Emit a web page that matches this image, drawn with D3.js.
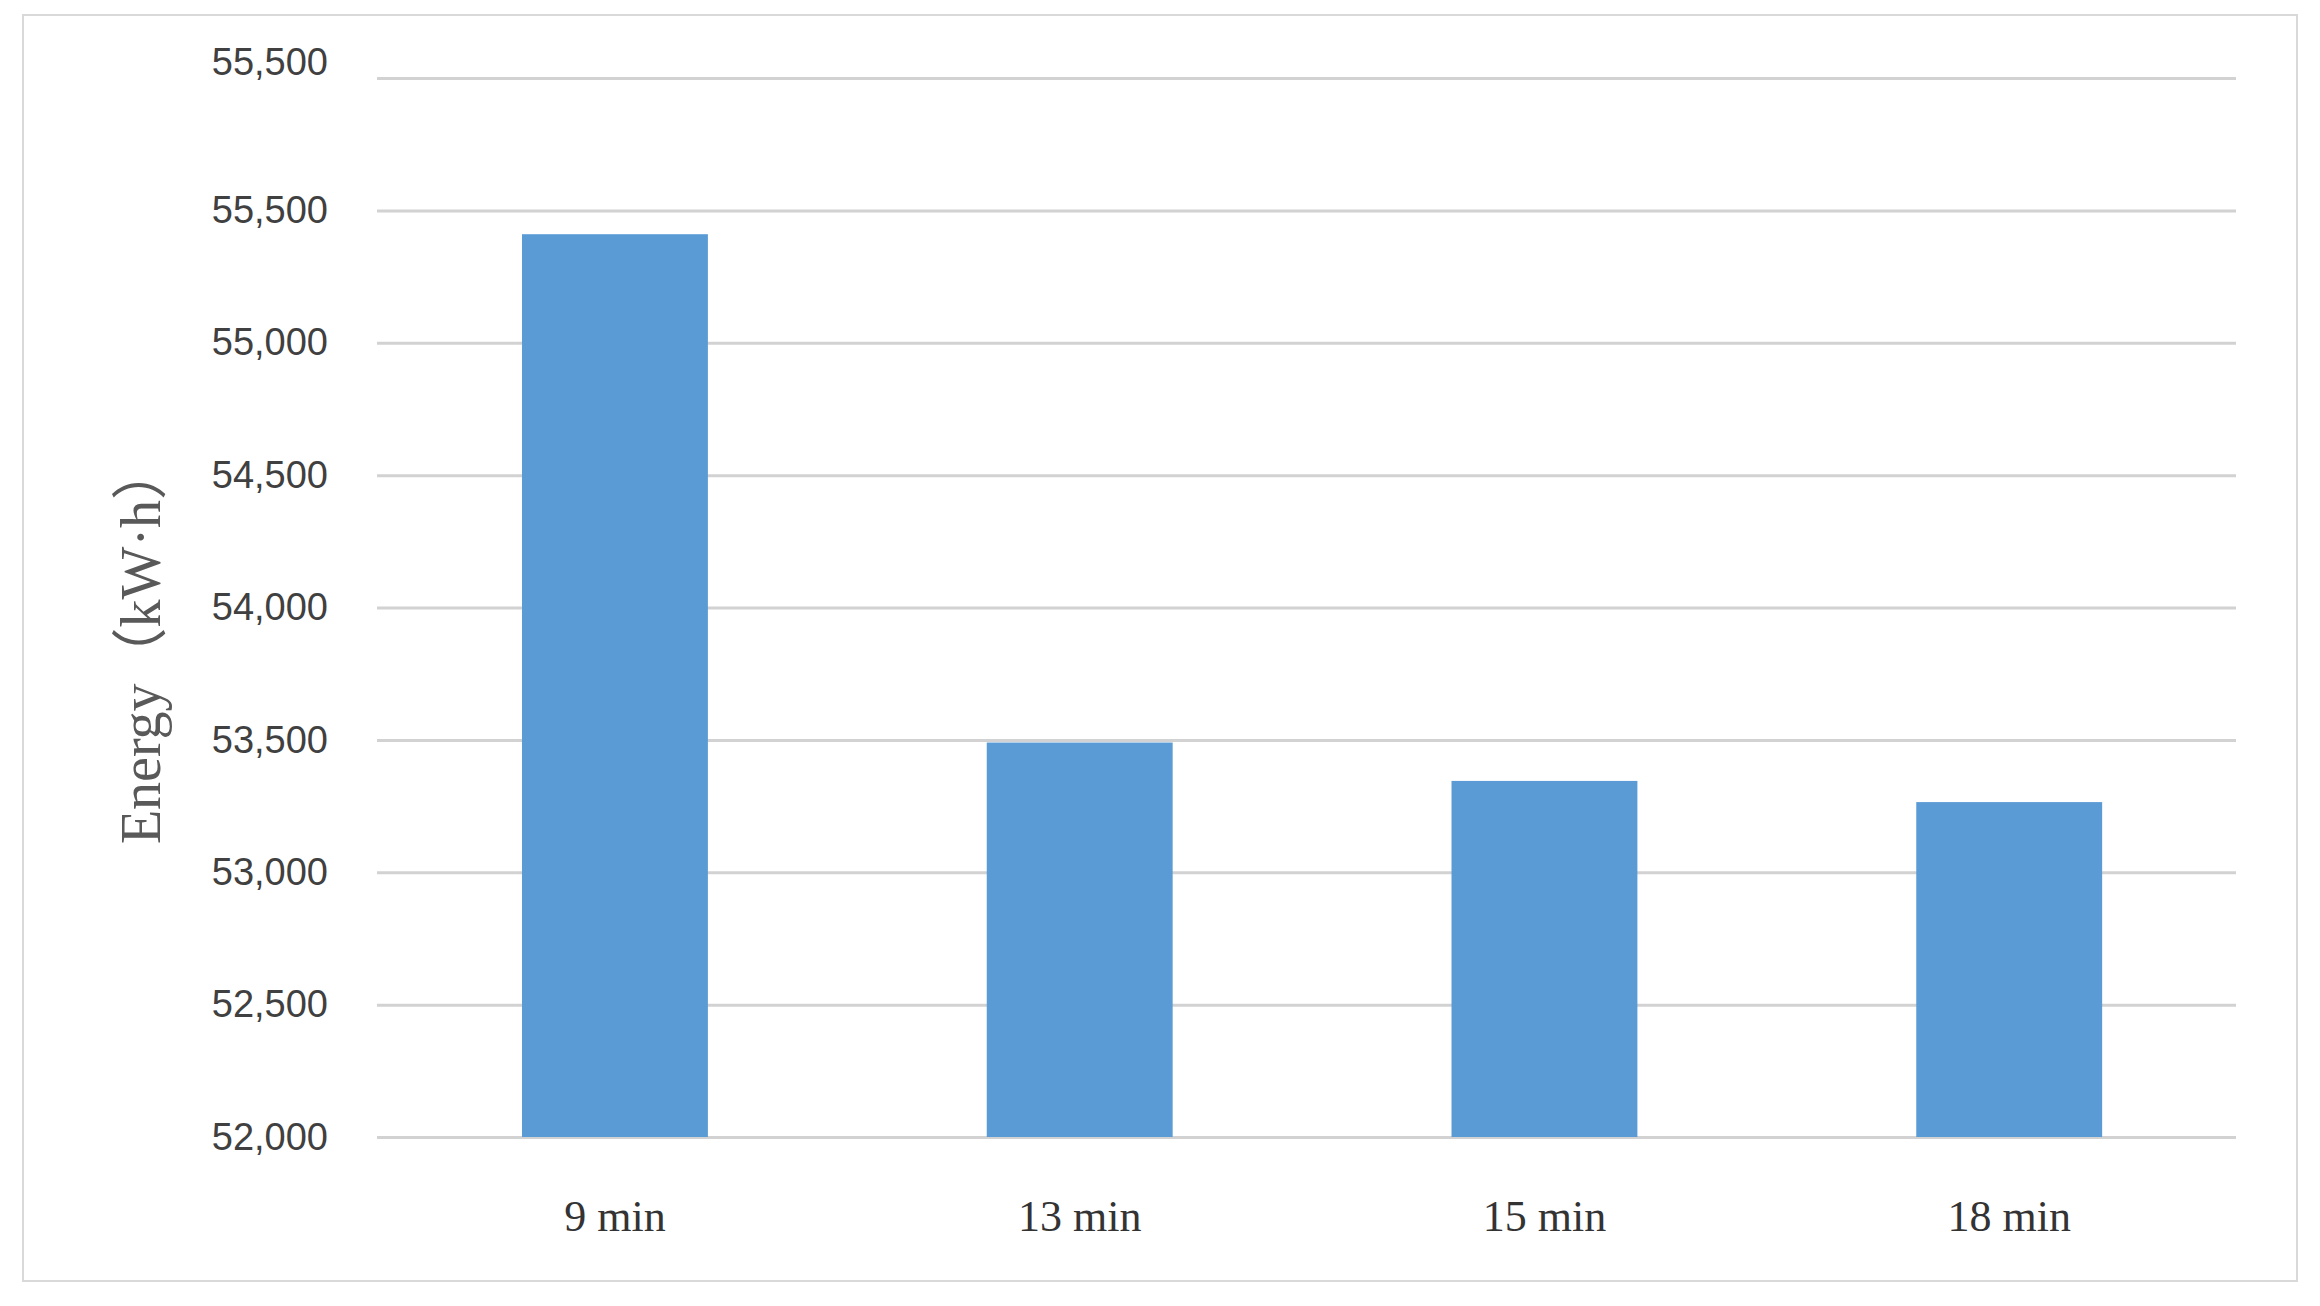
<!DOCTYPE html>
<html>
<head>
<meta charset="utf-8">
<script src="https://cdn.jsdelivr.net/npm/d3@7"></script>
<style>
  body { margin: 0; background: #fff; }
</style>
</head>
<body>
<div id="chart"></div>
<script>
// data
const categories = ["9 min", "13 min", "15 min", "18 min"];
const energy = [55410, 53490, 53345, 53265];
const tickValues = [52000, 52500, 53000, 53500, 54000, 54500, 55000, 55500, 56000];
// top label is printed as 55,500 in the source chart, kept as is
const tickLabels = ["52,000", "52,500", "53,000", "53,500", "54,000", "54,500", "55,000", "55,500", "55,500"];

const width = 2320, height = 1306;
const margin = {top: 78, right: 84, bottom: 169, left: 377};
let plot_w = width - margin.left - margin.right,
    plot_h = height - margin.top - margin.bottom;

let svg = d3.select("#chart")
    .append("svg")
    .attr("width", width)
    .attr("height", height);

// light frame round the chart area
svg.append("rect")
    .attr("x", 23).attr("y", 15)
    .attr("width", 2274).attr("height", 1266)
    .attr("fill", "#fff")
    .attr("stroke", "#d9d9d9")
    .attr("stroke-width", 2);

let g = svg.append("g")
    .attr("transform", `translate(${margin.left}, ${margin.top})`);

let x = d3.scaleBand()
    .domain(categories)
    .range([0, plot_w])
    .paddingInner(0.6)
    .paddingOuter(0.3)
    .align(0.52);

let y = d3.scaleLinear()
    .domain([52000, 56000])
    .range([plot_h, 0]);

// gridlines
let grid = g.append("g")
    .call(d3.axisLeft(y).tickValues(tickValues).tickSize(-plot_w).tickFormat(""));
grid.select(".domain").remove();
grid.selectAll("line")
    .attr("stroke", "#d2d2d2")
    .attr("stroke-width", 3);

// bars
g.selectAll("rect.bar")
    .data(energy)
    .enter()
    .append("rect")
    .attr("class", "bar")
    .attr("x", function (d, i) { return x(categories[i]); })
    .attr("y", function (d) { return y(d); })
    .attr("width", x.bandwidth())
    .attr("height", function (d) { return y(52000) - y(d); })
    .attr("fill", "#5b9bd5");

// y axis labels
let yAxis = g.append("g")
    .call(d3.axisLeft(y)
        .tickValues(tickValues)
        .tickFormat(function (d, i) { return tickLabels[i]; })
        .tickSize(0)
        .tickPadding(49));
yAxis.select(".domain").remove();
yAxis.selectAll("text")
    .attr("font-family", "'Liberation Sans', Arial, sans-serif")
    .attr("font-size", 38)
    .attr("fill", "#404040");
// the top label sits a little above its line in the source
yAxis.selectAll(".tick").filter(function (d) { return d === 56000; })
    .select("text").attr("y", -16);

// x axis labels
let xAxis = g.append("g")
    .attr("transform", `translate(0, ${plot_h})`)
    .call(d3.axisBottom(x).tickSize(0).tickPadding(63));
xAxis.select(".domain").remove();
xAxis.selectAll("text")
    .attr("font-family", "'Liberation Serif', 'Times New Roman', serif")
    .attr("font-size", 44)
    .attr("fill", "#333");

// y axis title
svg.append("text")
    .attr("transform", `translate(160, 644) rotate(-90)`)
    .style("text-anchor", "middle")
    .attr("font-family", "'Liberation Serif', 'Noto Sans CJK SC', serif")
    .attr("font-size", 56)
    .attr("fill", "#595959")
    .text("Energy（kW·h）");
</script>
</body>
</html>
